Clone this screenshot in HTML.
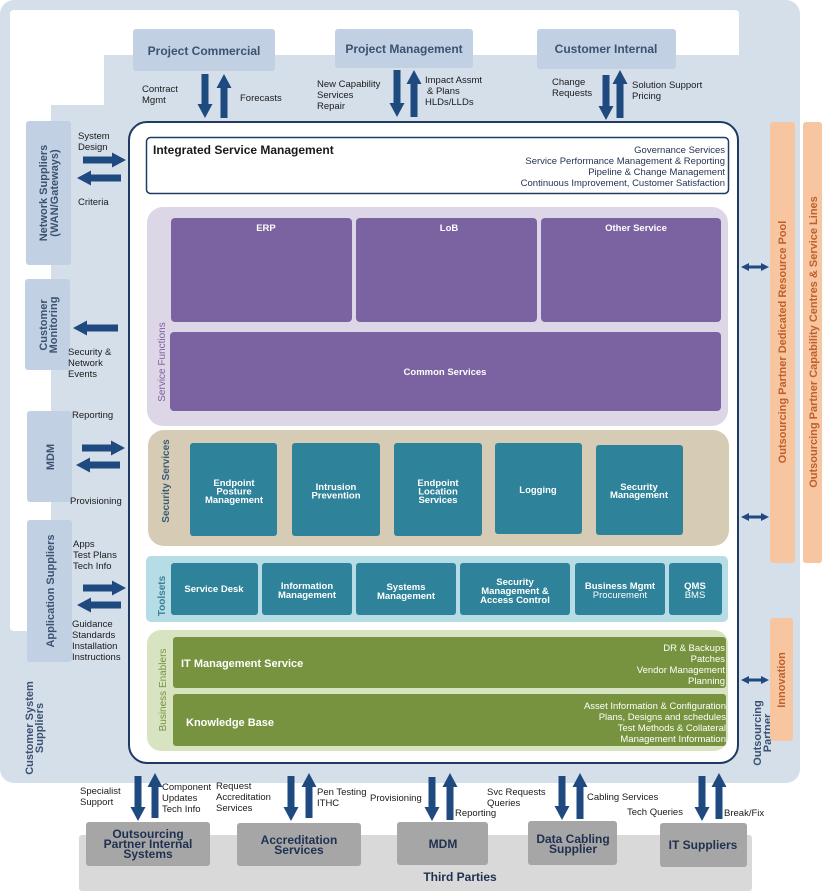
<!DOCTYPE html>
<html><head><meta charset="utf-8"><style>
html,body{margin:0;padding:0;background:#fff;}
svg{display:block;font-family:"Liberation Sans",sans-serif;}
.l{font-size:9.5px;fill:#1a1a1a;}
.bt{font-size:12px;font-weight:bold;fill:#3b5272;}
.w{fill:#fff;font-weight:bold;font-size:9.5px;}
.wr{fill:#fff;font-size:9.5px;}
.a{fill:#1f4a80;}
.dk{font-size:12px;font-weight:bold;fill:#1f3050;}
</style></head><body>
<svg width="822" height="891" viewBox="0 0 822 891">
<rect x="0" y="0" width="800" height="783" rx="14" fill="#d5dfea"/>
<path d="M14,10 H735 Q739,10 739,14 V55 H104 V105 H51 V631 H14 Q10,631 10,627 V14 Q10,10 14,10 Z" fill="#fff"/>
<!-- top boxes -->
<rect x="133" y="29" width="142" height="42" rx="3" fill="#c1d1e3"/>
<text class="bt" x="204" y="55" text-anchor="middle">Project Commercial</text>
<rect x="335" y="29" width="138" height="39" rx="3" fill="#c1d1e3"/>
<text class="bt" x="404" y="53" text-anchor="middle">Project Management</text>
<rect x="537" y="29" width="139" height="40" rx="3" fill="#c1d1e3"/>
<text class="bt" x="606" y="53" text-anchor="middle">Customer Internal</text>
<!-- top labels -->
<text class="l" x="142" y="92">Contract</text><text class="l" x="142" y="103">Mgmt</text>
<text class="l" x="240" y="101">Forecasts</text>
<text class="l" x="317" y="87">New Capability</text><text class="l" x="317" y="98">Services</text><text class="l" x="317" y="109">Repair</text>
<text class="l" x="425" y="83">Impact Assmt</text><text class="l" x="427" y="94"> &amp; Plans</text><text class="l" x="425" y="105">HLDs/LLDs</text>
<text class="l" x="552" y="85">Change</text><text class="l" x="552" y="96">Requests</text>
<text class="l" x="632" y="88">Solution Support</text><text class="l" x="632" y="99">Pricing</text>
<!-- main container -->
<rect x="129" y="122" width="609" height="641" rx="18" fill="#fff" stroke="#1f3a63" stroke-width="2"/>
<rect x="146.5" y="137.5" width="582" height="56" rx="4" fill="#fff" stroke="#1f3a63" stroke-width="1.5"/>
<text x="153" y="154" font-size="12" font-weight="bold" fill="#1a1a1a">Integrated Service Management</text>
<g class="l" text-anchor="end" style="fill:#1f3050"><text x="725" y="153">Governance Services</text><text x="725" y="164">Service Performance Management &amp; Reporting</text><text x="725" y="175">Pipeline &amp; Change Management</text><text x="725" y="186">Continuous Improvement, Customer Satisfaction</text></g>
<!-- service functions -->
<rect x="147" y="207" width="581" height="219" rx="16" fill="#ddd6e6"/>
<rect x="171" y="218" width="181" height="104" rx="4" fill="#7b62a0"/>
<rect x="356" y="218" width="181" height="104" rx="4" fill="#7b62a0"/>
<rect x="541" y="218" width="180" height="104" rx="4" fill="#7b62a0"/>
<rect x="170" y="332" width="551" height="79" rx="4" fill="#7b62a0"/>
<text class="w" x="266" y="231" text-anchor="middle">ERP</text>
<text class="w" x="449" y="231" text-anchor="middle">LoB</text>
<text class="w" x="636" y="231" text-anchor="middle">Other Service</text>
<text class="w" x="445" y="375" text-anchor="middle">Common Services</text>
<text transform="translate(165,362) rotate(-90)" text-anchor="middle" font-size="10" fill="#7b62a0">Service Functions</text>
<!-- security -->
<rect x="148" y="430" width="581" height="116" rx="16" fill="#d6cbb4"/>
<g fill="#2e8299"><rect x="190" y="443" width="87" height="93" rx="3"/><rect x="292" y="443" width="88" height="93" rx="3"/><rect x="394" y="443" width="88" height="93" rx="3"/><rect x="495" y="443" width="87" height="91" rx="3"/><rect x="596" y="445" width="87" height="90" rx="3"/></g>
<g class="w" text-anchor="middle"><text x="234" y="486">Endpoint</text><text x="234" y="494.5">Posture</text><text x="234" y="503">Management</text>
<text x="336" y="490">Intrusion</text><text x="336" y="498.5">Prevention</text>
<text x="438" y="486">Endpoint</text><text x="438" y="494.5">Location</text><text x="438" y="503">Services</text>
<text x="538" y="493">Logging</text>
<text x="639" y="490">Security</text><text x="639" y="498">Management</text></g>
<text transform="translate(169,481) rotate(-90)" text-anchor="middle" font-size="10" font-weight="bold" fill="#3b5c77">Security Services</text>
<!-- toolsets -->
<rect x="146" y="556" width="582" height="66" rx="5" fill="#b6dce6"/>
<g fill="#2e8299"><rect x="171" y="563" width="87" height="52" rx="3"/><rect x="262" y="563" width="90" height="52" rx="3"/><rect x="356" y="563" width="100" height="52" rx="3"/><rect x="460" y="563" width="110" height="52" rx="3"/><rect x="575" y="563" width="90" height="52" rx="3"/><rect x="669" y="563" width="53" height="52" rx="3"/></g>
<g class="w" text-anchor="middle"><text x="214" y="592">Service Desk</text>
<text x="307" y="589">Information</text><text x="307" y="598">Management</text>
<text x="406" y="590">Systems</text><text x="406" y="599">Management</text>
<text x="515" y="585">Security</text><text x="515" y="594">Management &amp;</text><text x="515" y="603">Access Control</text>
<text x="620" y="589">Business Mgmt</text><text x="695" y="589">QMS</text></g>
<g class="wr" text-anchor="middle"><text x="620" y="598">Procurement</text><text x="695" y="598">BMS</text></g>
<text transform="translate(165,596) rotate(-90)" text-anchor="middle" font-size="10" font-weight="bold" fill="#3b7f99">Toolsets</text>
<!-- business enablers -->
<rect x="147" y="630" width="581" height="121" rx="14" fill="#d8e3c2"/>
<rect x="173" y="637" width="553" height="51" rx="3" fill="#77933f"/>
<rect x="173" y="694" width="553" height="52" rx="3" fill="#77933f"/>
<text x="181" y="667" font-size="11" font-weight="bold" fill="#fff">IT Management Service</text>
<text x="186" y="726" font-size="11" font-weight="bold" fill="#fff">Knowledge Base</text>
<g class="wr" text-anchor="end"><text x="725" y="651">DR &amp; Backups</text><text x="725" y="662">Patches</text><text x="725" y="673">Vendor Management</text><text x="725" y="684">Planning</text>
<text x="726" y="709">Asset Information &amp; Configuration</text><text x="726" y="720">Plans, Designs and schedules</text><text x="726" y="731">Test Methods &amp; Collateral</text><text x="726" y="742">Management Information</text></g>
<text transform="translate(166,690) rotate(-90)" text-anchor="middle" font-size="10" fill="#77933f">Business Enablers</text>
<!-- left boxes -->
<g fill="#c1d1e3"><rect x="26" y="121" width="45" height="144" rx="3"/><rect x="25" y="279" width="45" height="91" rx="3"/><rect x="27" y="411" width="45" height="91" rx="3"/><rect x="27" y="520" width="45" height="142" rx="3"/></g>
<g font-size="11" font-weight="bold" fill="#3b5272" text-anchor="middle">
<text transform="translate(47,193) rotate(-90)">Network Suppliers</text><text transform="translate(58,193) rotate(-90)">(WAN/Gateways)</text>
<text transform="translate(47,325) rotate(-90)">Customer</text><text transform="translate(57,325) rotate(-90)">Monitoring</text>
<text transform="translate(54,457) rotate(-90)">MDM</text>
<text transform="translate(54,591) rotate(-90)">Application Suppliers</text>
<text transform="translate(33,728) rotate(-90)">Customer System</text><text transform="translate(43,728) rotate(-90)">Suppliers</text>
<text transform="translate(761,733) rotate(-90)">Outsourcing</text><text transform="translate(771,733) rotate(-90)">Partner</text>
</g>
<text class="l" x="78" y="139">System</text><text class="l" x="78" y="150">Design</text>
<text class="l" x="78" y="205">Criteria</text>
<text class="l" x="68" y="355">Security &amp;</text><text class="l" x="68" y="366">Network</text><text class="l" x="68" y="377">Events</text>
<text class="l" x="72" y="418">Reporting</text>
<text class="l" x="70" y="504">Provisioning</text>
<text class="l" x="73" y="547">Apps</text><text class="l" x="73" y="558">Test Plans</text><text class="l" x="73" y="569">Tech Info</text>
<text class="l" x="72" y="627">Guidance</text><text class="l" x="72" y="638">Standards</text><text class="l" x="72" y="649">Installation</text><text class="l" x="72" y="660">Instructions</text>
<!-- right orange -->
<g fill="#f7c59f"><rect x="770" y="122" width="25" height="441" rx="3"/><rect x="803" y="122" width="19" height="441" rx="3"/><rect x="770" y="618" width="23" height="123" rx="3"/></g>
<g font-size="11" font-weight="bold" fill="#c0602a" text-anchor="middle">
<text transform="translate(786,342) rotate(-90)">Outsourcing Partner Dedicated Resource Pool</text>
<text transform="translate(817,342) rotate(-90)">Outsourcing Partner Capability Centres &amp; Service Lines</text>
<text transform="translate(785,680) rotate(-90)">Innovation</text></g>
<!-- bottom -->
<rect x="79" y="835" width="673" height="56" rx="3" fill="#d9d9d9"/>
<g fill="#a6a6a6"><rect x="86" y="822" width="124" height="44" rx="3"/><rect x="237" y="823" width="124" height="43" rx="3"/><rect x="397" y="822" width="91" height="43" rx="3"/><rect x="528" y="821" width="89" height="44" rx="3"/><rect x="660" y="823" width="87" height="44" rx="3"/></g>
<g class="dk" text-anchor="middle"><text x="148" y="838">Outsourcing</text><text x="148" y="848">Partner Internal</text><text x="148" y="858">Systems</text>
<text x="299" y="844">Accreditation</text><text x="299" y="854">Services</text>
<text x="443" y="848">MDM</text>
<text x="573" y="843">Data Cabling</text><text x="573" y="853">Supplier</text>
<text x="703" y="849">IT Suppliers</text>
<text x="460" y="881">Third Parties</text></g>
<text class="l" x="80" y="794">Specialist</text><text class="l" x="80" y="805">Support</text>
<text class="l" x="162" y="790">Component</text><text class="l" x="162" y="801">Updates</text><text class="l" x="162" y="812">Tech Info</text>
<text class="l" x="216" y="789">Request</text><text class="l" x="216" y="800">Accreditation</text><text class="l" x="216" y="811">Services</text>
<text class="l" x="317" y="795">Pen Testing</text><text class="l" x="317" y="806">ITHC</text>
<text class="l" x="370" y="801">Provisioning</text>
<text class="l" x="455" y="816">Reporting</text>
<text class="l" x="487" y="795">Svc Requests</text><text class="l" x="487" y="806">Queries</text>
<text class="l" x="587" y="800">Cabling Services</text>
<text class="l" x="627" y="815">Tech Queries</text>
<text class="l" x="724" y="816">Break/Fix</text>
<!-- arrows -->
<g class="a">
<polygon points="201.5,74 208.5,74 208.5,104 212.5,104 205,118 197.5,104 201.5,104"/>
<polygon points="220.5,118 227.5,118 227.5,88 231.5,88 224,74 216.5,88 220.5,88"/>
<polygon points="393.5,70 400.5,70 400.5,103 404.5,103 397,117 389.5,103 393.5,103"/>
<polygon points="410.5,117 417.5,117 417.5,84 421.5,84 414,70 406.5,84 410.5,84"/>
<polygon points="602.5,75 609.5,75 609.5,106 613.5,106 606,120 598.5,106 602.5,106"/>
<polygon points="616.5,118 623.5,118 623.5,84 627.5,84 620,70 612.5,84 616.5,84"/>
<polygon points="83,156.5 112,156.5 112,152.5 126,160 112,167.5 112,163.5 83,163.5"/>
<polygon points="121,174.5 91,174.5 91,170.5 77,178 91,185.5 91,181.5 121,181.5"/>
<polygon points="118,324.5 87,324.5 87,320.5 73,328 87,335.5 87,331.5 118,331.5"/>
<polygon points="82,444.5 111,444.5 111,440.5 125,448 111,455.5 111,451.5 82,451.5"/>
<polygon points="120,461.5 90,461.5 90,457.5 76,465 90,472.5 90,468.5 120,468.5"/>
<polygon points="83,584.5 112,584.5 112,580.5 126,588 112,595.5 112,591.5 83,591.5"/>
<polygon points="121,601.5 91,601.5 91,597.5 77,605 91,612.5 91,608.5 121,608.5"/>
<polygon points="134.5,776 141.5,776 141.5,807 145.5,807 138,821 130.5,807 134.5,807"/>
<polygon points="151.5,818 158.5,818 158.5,787 162.5,787 155,773 147.5,787 151.5,787"/>
<polygon points="287.5,776 294.5,776 294.5,807 298.5,807 291,821 283.5,807 287.5,807"/>
<polygon points="305.5,818 312.5,818 312.5,787 316.5,787 309,773 301.5,787 305.5,787"/>
<polygon points="428.5,777 435.5,777 435.5,807 439.5,807 432,821 424.5,807 428.5,807"/>
<polygon points="446.5,820 453.5,820 453.5,787 457.5,787 450,773 442.5,787 446.5,787"/>
<polygon points="558.5,776 565.5,776 565.5,806 569.5,806 562,820 554.5,806 558.5,806"/>
<polygon points="576.5,819 583.5,819 583.5,787 587.5,787 580,773 572.5,787 576.5,787"/>
<polygon points="698.5,776 705.5,776 705.5,807 709.5,807 702,821 694.5,807 698.5,807"/>
<polygon points="715.5,819 722.5,819 722.5,787 726.5,787 719,773 711.5,787 715.5,787"/>
<polygon points="741,267 749,263 749,265.5 761,265.5 761,263 769,267 761,271 761,268.5 749,268.5 749,271"/>
<polygon points="741,517 749,513 749,515.5 761,515.5 761,513 769,517 761,521 761,518.5 749,518.5 749,521"/>
<polygon points="741,680 749,676 749,678.5 761,678.5 761,676 769,680 761,684 761,681.5 749,681.5 749,684"/>
</g>
</svg>
</body></html>
